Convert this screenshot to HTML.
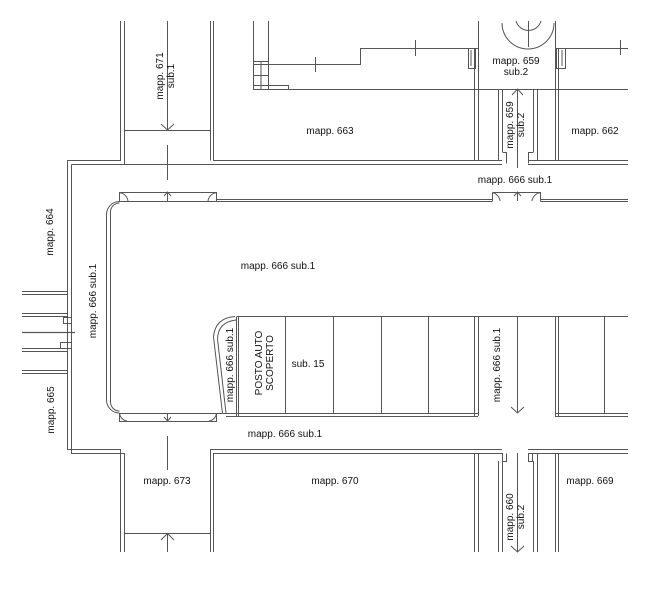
<!DOCTYPE html>
<html><head><meta charset="utf-8"><style>
html,body{margin:0;padding:0;background:#fff;width:654px;height:609px;overflow:hidden}
svg{display:block}
text{font-family:"Liberation Sans",sans-serif;font-size:10px;fill:#111}
</style></head><body>
<svg width="654" height="609" viewBox="0 0 654 609" xmlns="http://www.w3.org/2000/svg">
<g stroke="#555" stroke-width="1" fill="none">
<path d="M120.5 21V160.5H67.5V449.5H120.5V552M124.5 21V164.5M210.5 21V160.5M213.5 21V160.5H502M528 160.5H628"/>
<path d="M124.5 130.5H210.5M167.5 21V130M161 124l6.5 6l6.5-6M167.5 145V180"/>
<path d="M71.5 164.5H502M528 164.5H628M71.5 164.5V453.5H124.5V552M210.5 552V449.5H502M528 449.5H628M213.5 552V453.5H502M528 453.5H628"/>
<path d="M253.5 21V89.5H628M268.5 21V89.5M253.5 61.5H268.5M253.5 64.5H360.5V48.5H468M253.5 75.5H268.5M253.5 85.5H288.5V89.5M261 62V89M315.5 57V72M415.5 40V56M478 48.5H474"/>
<path d="M478.5 21V89.5M555.5 21V89.5M474.5 48V160.5M478.5 89V160.5M555.5 89V160.5M558.5 48V160.5M558 48.5H628M620.5 40V55"/>
<path d="M468.5 48.5H475.5V68.5H468.5ZM471 50V66M556.5 48.5H565.5V68.5H556.5ZM562 50V66"/>
<path d="M502 23A26 26 0 0 0 554 23M528.5 21V47M516 21A13 13 0 0 0 541 21"/>
<path d="M498.5 89.5V160.5M502.5 89.5V152M533.5 89.5V152M537.5 89.5V160.5M517.5 89.5V168M512 95l5.5-6l5.5 6"/>
<path d="M502.5 152.5H506.5V163.5M528.5 163.5V152.5H533.5"/>
<path d="M119.5 192.5H216.5V201.5H119.5ZM119.5 192.5A10 10 0 0 1 128 201M216.5 192.5A10 10 0 0 0 208 201M167.5 192V201M164 196l3.5-4l3.5 4"/>
<path d="M492.5 192.5H540.5V201.5M492.5 192.5V201.5M492.5 192.5A10 10 0 0 1 500 201M540.5 192.5A10 10 0 0 0 532 201M517.5 192V201M514 196l3.5-4l3.5 4"/>
<path d="M216.5 199.5H492M540.5 199.5H628M216.5 201.5H492M540.5 201.5H628"/>
<path d="M119.5 201.5A13 13 0 0 0 106.5 214.5V400A13 13 0 0 0 119.5 413M119.5 203A9 9 0 0 0 110.5 212V402A9 9 0 0 0 119.5 411"/>
<path d="M119.5 413.5H216.5V421.5H119.5ZM119.5 413.5A9 9 0 0 0 127 421M216.5 413.5A9 9 0 0 1 209 421M167.5 413V421M164 417l3.5 4l3.5-4"/>
<path d="M167.5 436V470M124.5 533.5H210.5M167.5 533.5V552M161 540l6.5-6.5l6.5 6.5"/>
<path d="M22 291.5H67M22 294.5H67M22 313.5H67M22 316.5H67M22 348.5H67M22 351.5H67M22 370.5H67M22 373.5H67"/>
<path d="M22 332.5H75" stroke-width="1.3"/>
<path d="M63.5 317.5H71.5V323.5H63.5ZM60.5 342.5H71.5V348.5H60.5Z"/>
<path d="M237 316.5H628M216.5 413.5H478M555 413.5H628M226 416.5H478M555 416.5H628"/>
<path d="M235 316.5Q215 318 213.5 337L222.5 413.5M236 320Q218 322 217.5 339L226 413"/>
<path d="M236.5 316.5V416M238.5 316.5V416M285.5 316.5V413M333.5 316.5V413M381.5 316.5V413M428.5 316.5V413M474.5 316.5V416M478.5 316.5V416M555.5 316.5V416M558.5 316.5V416M604.5 316.5V413"/>
<path d="M517.5 316.5V413M511 407l6.5 6l6.5-6"/>
<path d="M474.5 453V552M478.5 453V552M498.5 461V552M502.5 453V552M533.5 461V552M537.5 453V552M555.5 453V552M558.5 453V552M517.5 453V552M511 546l6.5 6l6.5-6"/>
<path d="M502.5 453.5V461.5H506.5V453.5M528.5 453.5V461.5H532.5V453.5"/>
</g>
<text x="330" y="134" text-anchor="middle">mapp. 663</text>
<text x="595" y="134" text-anchor="middle">mapp. 662</text>
<text x="516" y="64" text-anchor="middle">mapp. 659</text>
<text x="516" y="75" text-anchor="middle">sub.2</text>
<text x="515" y="183" text-anchor="middle">mapp. 666  sub.1</text>
<text x="278" y="269" text-anchor="middle">mapp. 666  sub.1</text>
<text x="285" y="437" text-anchor="middle">mapp. 666  sub.1</text>
<text x="308" y="367" text-anchor="middle">sub. 15</text>
<text x="167" y="484" text-anchor="middle">mapp. 673</text>
<text x="335" y="484" text-anchor="middle">mapp. 670</text>
<text x="590" y="484" text-anchor="middle">mapp. 669</text>
<text transform="translate(163,76) rotate(-90)" text-anchor="middle">mapp. 671</text>
<text transform="translate(174,76) rotate(-90)" text-anchor="middle">sub.1</text>
<text transform="translate(513,125) rotate(-90)" text-anchor="middle">mapp. 659</text>
<text transform="translate(524,125) rotate(-90)" text-anchor="middle">sub.2</text>
<text transform="translate(513,517) rotate(-90)" text-anchor="middle">mapp. 660</text>
<text transform="translate(524,517) rotate(-90)" text-anchor="middle">sub.2</text>
<text transform="translate(500,365) rotate(-90)" text-anchor="middle">mapp. 666  sub.1</text>
<text transform="translate(233,365) rotate(-90)" text-anchor="middle">mapp. 666  sub.1</text>
<text transform="translate(262,363) rotate(-90)" text-anchor="middle">POSTO AUTO</text>
<text transform="translate(273,363) rotate(-90)" text-anchor="middle">SCOPERTO</text>
<text transform="translate(53,232) rotate(-90)" text-anchor="middle">mapp. 664</text>
<text transform="translate(54,410) rotate(-90)" text-anchor="middle">mapp. 665</text>
<text transform="translate(96,301) rotate(-90)" text-anchor="middle">mapp. 666  sub.1</text>
</svg>
</body></html>
